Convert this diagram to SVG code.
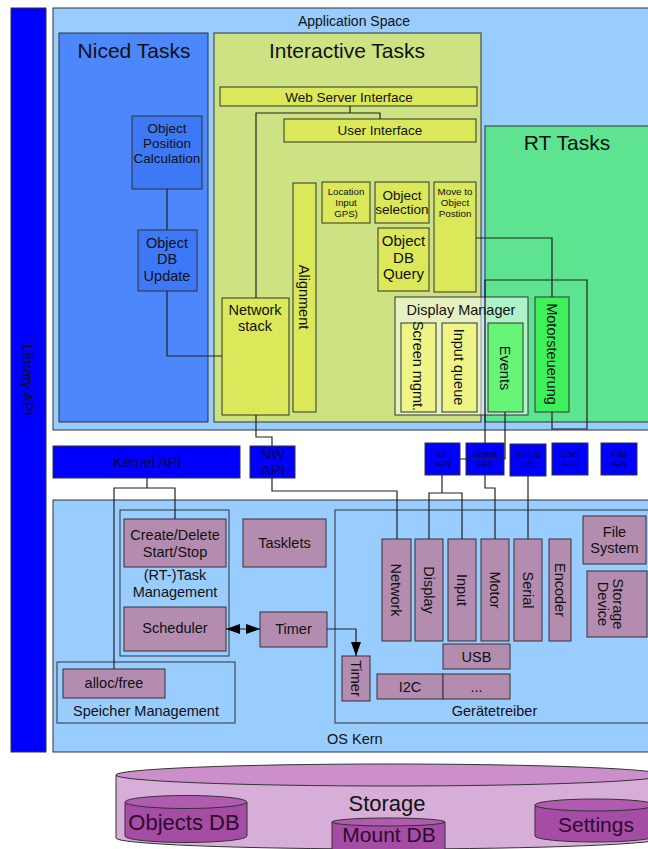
<svg xmlns="http://www.w3.org/2000/svg" width="648" height="849" viewBox="0 0 648 849">
<style>
text{font-family:"Liberation Sans",Arial,sans-serif;fill:#111;text-anchor:middle}
.b{stroke:#333;stroke-width:1}
.api{fill:#0000ff;stroke:#333;stroke-width:1}
.apit{fill:#000050}
.yl{fill:#dbe85a;stroke:#333;stroke-width:1}
.nb{fill:#3d79f7;stroke:#333;stroke-width:1}
.dr{fill:#b48cb0;stroke:#333;stroke-width:1}
.c{fill:none;stroke:#222;stroke-width:1.2}
.t14{font-size:14.5px}
.t13{font-size:13.5px}
.t21{font-size:21px}
.s9{font-size:9.5px}
</style>
<defs>
<marker id="arr" viewBox="0 0 14 10" refX="14" refY="5" markerWidth="14" markerHeight="10" markerUnits="userSpaceOnUse" orient="auto-start-reverse"><path d="M0,0 L14,5 L0,10 z" fill="#000"/></marker>
</defs>
<rect width="648" height="849" fill="#fff"/>

<g id="library-api">
<rect x="11" y="8" width="35" height="744" class="api"/>
<text class="t14" transform="translate(28,380) rotate(90)" dy="0.35em">Library API</text>
</g>

<g id="application-space">
<rect x="53" y="8" width="600" height="422" fill="#99ccff" class="b"/>
<text x="354" y="26" font-size="14px">Application Space</text>
</g>

<g id="niced-tasks">
<rect x="59" y="33" width="149" height="389" fill="#4c87fb" class="b"/>
<text x="134" y="58" class="t21">Niced Tasks</text>
</g>

<g id="interactive-tasks">
<rect x="214" y="33" width="267" height="389" fill="#cde383" class="b"/>
<text x="347" y="58" class="t21">Interactive Tasks</text>
</g>

<g id="rt-tasks">
<rect x="485" y="126" width="168" height="296" fill="#5ee391" class="b"/>
<text x="567" y="150" class="t21">RT Tasks</text>
</g>

<g id="obj-pos-calc">
<rect x="132" y="116" width="70" height="73" class="nb"/>
<text x="167" y="133" class="t13">Object</text>
<text x="167" y="148" class="t13">Position</text>
<text x="167" y="163" class="t13">Calculation</text>
</g>

<g id="obj-db-update">
<rect x="138" y="230" width="59" height="61" class="nb"/>
<text x="167" y="248" class="t14">Object</text>
<text x="167" y="264" class="t14">DB</text>
<text x="167" y="281" class="t14">Update</text>
</g>

<g id="web-server-interface">
<rect x="220" y="87" width="257" height="19" class="yl"/>
<text x="349" y="102" class="t13">Web Server Interface</text>
</g>

<g id="user-interface">
<rect x="284" y="119" width="192" height="23" class="yl"/>
<text x="380" y="135" class="t13">User Interface</text>
</g>

<g id="network-stack">
<rect x="222" y="298" width="67" height="117" class="yl"/>
<text x="255" y="315" class="t14">Network</text>
<text x="255" y="331" class="t14">stack</text>
</g>

<g id="alignment">
<rect x="293" y="183" width="23" height="229" class="yl"/>
<text class="t14" transform="translate(304.5,297) rotate(90)" dy="0.35em">Alignment</text>
</g>

<g id="location-input">
<rect x="322" y="182" width="48" height="41" class="yl"/>
<text x="346" y="195" font-size="9.7px">Location</text>
<text x="346" y="206" font-size="9.7px">Input</text>
<text x="346" y="217" font-size="9.7px">GPS)</text>
</g>

<g id="object-selection">
<rect x="375" y="182" width="54" height="41" class="yl"/>
<text x="402" y="200" class="t13">Object</text>
<text x="402" y="214" class="t13">selection</text>
</g>

<g id="move-to-object">
<rect x="434" y="182" width="42" height="110" class="yl"/>
<text x="455" y="195" font-size="9.8px">Move to</text>
<text x="455" y="206" font-size="9.8px">Object</text>
<text x="455" y="217" font-size="9.8px">Postion</text>
</g>

<g id="object-db-query">
<rect x="378" y="228" width="51" height="63" class="yl"/>
<text x="403.5" y="246" font-size="15px">Object</text>
<text x="403.5" y="263" font-size="15px">DB</text>
<text x="403.5" y="279" font-size="15px">Query</text>
</g>

<g id="display-manager">
<rect x="395" y="297" width="133" height="118" fill="#ffffff" fill-opacity="0.5" class="b"/>
<text x="461" y="315" class="t14">Display Manager</text>
</g>

<g id="screen-mgmt">
<rect x="401" y="323" width="35" height="89" fill="#eef586" class="b"/>
<text class="t14" transform="translate(418.5,366) rotate(90)" dy="0.35em">Screen mgmt.</text>
</g>

<g id="input-queue">
<rect x="442" y="323" width="35" height="89" fill="#eef586" class="b"/>
<text class="t14" transform="translate(459.5,367) rotate(90)" dy="0.35em">Input queue</text>
</g>

<g id="events">
<rect x="488" y="323" width="35" height="89" fill="#66f577" class="b"/>
<text class="t14" transform="translate(505.5,368) rotate(90)" dy="0.35em">Events</text>
</g>

<g id="motorsteuerung">
<rect x="535" y="297" width="34" height="115" fill="#3ef05a" class="b"/>
<text class="t14" transform="translate(552,354) rotate(90)" dy="0.35em">Motorsteuerung</text>
</g>

<g id="kernel-api">
<rect x="53" y="446" width="187" height="32" class="api"/>
<text x="147" y="467" class="t14 apit">Kernel API</text>
</g>

<g id="nw-api">
<rect x="250" y="446" width="45" height="32" class="api"/>
<text x="272.5" y="459" font-size="15px" class="apit">NW</text>
<text x="272.5" y="475" font-size="15px" class="apit">API</text>
</g>

<g id="ui-api">
<rect x="425" y="443" width="35" height="32" class="api"/>
<text x="442.5" y="457" class="s9 apit">UI</text>
<text x="442.5" y="467" class="s9 apit">API</text>
</g>

<g id="motor-api">
<rect x="466" y="443" width="38" height="32" class="api"/>
<text x="485" y="457" class="s9 apit">Motor</text>
<text x="485" y="467" class="s9 apit">API</text>
</g>

<g id="serial-api">
<rect x="510" y="444" width="36" height="32" class="api"/>
<text x="528" y="458" class="s9 apit">Serial</text>
<text x="528" y="468" class="s9 apit">API</text>
</g>

<g id="encl-api">
<rect x="552" y="443" width="36" height="32" class="api"/>
<text x="570" y="457" class="s9 apit">Encl</text>
<text x="570" y="467" class="s9 apit">API</text>
</g>

<g id="file-api">
<rect x="601" y="443" width="36" height="32" class="api"/>
<text x="619" y="457" class="s9 apit">File</text>
<text x="619" y="467" class="s9 apit">API</text>
</g>

<g id="os-kern">
<rect x="53" y="500" width="600" height="252" fill="#99ccff" class="b"/>
<text x="327" y="744" class="t14" style="text-anchor:start">OS Kern</text>
</g>

<g id="task-management">
<rect x="120" y="510" width="109" height="146" fill="none" class="b"/>
<text x="175" y="580" class="t14">(RT-)Task</text>
<text x="175" y="597" class="t14">Management</text>
</g>

<g id="create-delete">
<rect x="124" y="519" width="102" height="48" class="dr"/>
<text x="175" y="540" class="t14">Create/Delete</text>
<text x="175" y="557" class="t14">Start/Stop</text>
</g>

<g id="scheduler">
<rect x="124" y="607" width="102" height="44" class="dr"/>
<text x="175" y="633" class="t14">Scheduler</text>
</g>

<g id="speicher-management">
<rect x="57" y="662" width="178" height="61" fill="none" class="b"/>
<text x="146" y="716" class="t14">Speicher Management</text>
</g>

<g id="alloc-free">
<rect x="63" y="669" width="102" height="29" class="dr"/>
<text x="114" y="688" class="t14">alloc/free</text>
</g>

<g id="tasklets">
<rect x="243" y="519" width="83" height="48" class="dr"/>
<text x="284.5" y="548" class="t14">Tasklets</text>
</g>

<g id="timer">
<rect x="260" y="612" width="67" height="35" class="dr"/>
<text x="293.5" y="634" class="t14">Timer</text>
</g>

<g id="geraetetreiber">
<rect x="335" y="510" width="318" height="213" fill="none" class="b"/>
<text x="494.5" y="716" class="t14">Gerätetreiber</text>
</g>

<g id="drv-network">
<rect x="382" y="539" width="29" height="102" class="dr"/>
<text class="t14" transform="translate(396.5,590) rotate(90)" dy="0.35em">Network</text>
</g>
<g id="drv-display">
<rect x="415" y="539" width="28" height="102" class="dr"/>
<text class="t14" transform="translate(429,590) rotate(90)" dy="0.35em">Display</text>
</g>
<g id="drv-input">
<rect x="448" y="539" width="28" height="102" class="dr"/>
<text class="t14" transform="translate(462,590) rotate(90)" dy="0.35em">Input</text>
</g>
<g id="drv-motor">
<rect x="481" y="539" width="28" height="102" class="dr"/>
<text class="t14" transform="translate(495,590) rotate(90)" dy="0.35em">Motor</text>
</g>
<g id="drv-serial">
<rect x="514" y="539" width="28" height="102" class="dr"/>
<text class="t14" transform="translate(528,590) rotate(90)" dy="0.35em">Serial</text>
</g>
<g id="drv-encoder">
<rect x="549" y="539" width="22" height="102" class="dr"/>
<text class="t14" transform="translate(560,590) rotate(90)" dy="0.35em">Encoder</text>
</g>

<g id="file-system">
<rect x="583" y="516" width="63" height="48" class="dr"/>
<text x="614.5" y="537" class="t14">File</text>
<text x="614.5" y="553" class="t14">System</text>
</g>

<g id="storage-device">
<rect x="587" y="571" width="60" height="66" class="dr"/>
<text class="t14" transform="translate(612,604) rotate(90)" dy="-0.1em">Storage</text>
<text class="t14" transform="translate(612,604) rotate(90)" dy="0.95em">Device</text>
</g>

<g id="usb">
<rect x="443" y="644" width="67" height="25" class="dr"/>
<text x="476.5" y="662" class="t14">USB</text>
</g>

<g id="i2c">
<rect x="377" y="674" width="66" height="25" class="dr"/>
<text x="410" y="692" class="t14">I2C</text>
</g>

<g id="etc">
<rect x="443" y="674" width="67" height="25" class="dr"/>
<text x="476.5" y="692" class="t14">...</text>
</g>

<g id="small-timer">
<rect x="342" y="656" width="28" height="45" class="dr"/>
<text class="t14" transform="translate(356,678.5) rotate(90)" dy="0.35em">Timer</text>
</g>

<g id="storage">
<path d="M116,775 L116,838 A274,11 0 0 0 664,838 L664,775 Z" fill="#d7aed7" stroke="#333" stroke-width="1"/>
<ellipse cx="390" cy="775" rx="274" ry="11" fill="#cc8fcc" stroke="#333" stroke-width="1"/>
<text x="387" y="811" font-size="22px">Storage</text>
</g>

<g id="objects-db">
<path d="M125,802 L125,836 A61,6.5 0 0 0 247,836 L247,802 Z" fill="#a54ca5" stroke="#333" stroke-width="1"/>
<ellipse cx="186" cy="802" rx="61" ry="6.5" fill="#b05bb0" stroke="#333" stroke-width="1"/>
<text x="184" y="830" font-size="22px" fill="#2d0a2d" style="fill:#2d0a2d">Objects DB</text>
</g>

<g id="mount-db">
<path d="M332,822 L332,852 L445,852 L445,822 Z" fill="#a54ca5" stroke="#333" stroke-width="1"/>
<ellipse cx="388.5" cy="822" rx="56.5" ry="4" fill="#b05bb0" stroke="#333" stroke-width="1"/>
<text x="389" y="842" font-size="21px" style="fill:#2d0a2d">Mount DB</text>
</g>

<g id="settings">
<path d="M535,805 L535,836 A60,6 0 0 0 655,836 L655,805 Z" fill="#a54ca5" stroke="#333" stroke-width="1"/>
<ellipse cx="595" cy="805" rx="60" ry="6" fill="#b05bb0" stroke="#333" stroke-width="1"/>
<text x="596" y="832" font-size="21px" style="fill:#2d0a2d">Settings</text>
</g>

<g id="connectors">
<path class="c" d="M167,189 V230"/>
<path class="c" d="M167,291 V356 H222"/>
<path class="c" d="M256,298 V113 H380 V119"/>
<path class="c" d="M350,106 V113"/>
<path class="c" d="M476,238 H552 V297"/>
<path class="c" d="M552,412 V429 H587 V280 H485 V443"/>
<path class="c" d="M505,412 V459 H460"/>
<path class="c" d="M256,415 V437 H272 V446"/>
<path class="c" d="M272,478 V491 H397 V539"/>
<path class="c" d="M147,478 V488"/>
<path class="c" d="M114,669 V488 H175 V519"/>
<path class="c" d="M442,475 V493"/>
<path class="c" d="M429,539 V493 H462 V539"/>
<path class="c" d="M485,475 V488 H495 V539"/>
<path class="c" d="M528,476 V539"/>
<path class="c" d="M226,629 H260" marker-start="url(#arr)" marker-end="url(#arr)"/>
<path class="c" d="M327,629 H356 V656" marker-end="url(#arr)"/>
</g>
</svg>
